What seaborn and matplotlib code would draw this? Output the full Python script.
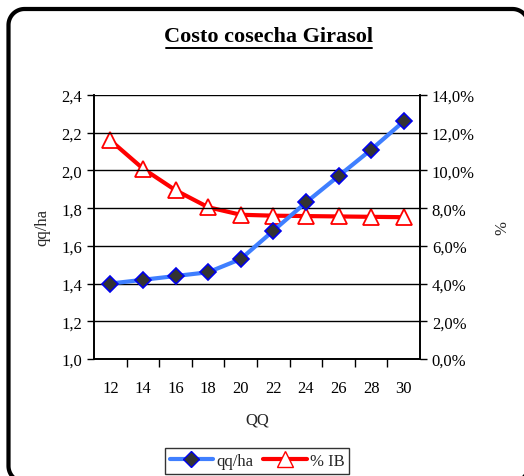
import matplotlib
matplotlib.use("Agg")
import matplotlib.pyplot as plt
import seaborn as sns
import pandas as pd
import numpy as np
from matplotlib.patches import PathPatch
from matplotlib.path import Path
from matplotlib.ticker import FixedLocator, FuncFormatter
from matplotlib.lines import Line2D

qq = [12, 14, 16, 18, 20, 22, 24, 26, 28, 30]
qq_ha = [1.40, 1.42, 1.44, 1.46, 1.53, 1.68, 1.83, 1.97, 2.11, 2.26]
pct_ib = [11.6, 10.1, 8.95, 8.05, 7.65, 7.6, 7.58, 7.56, 7.54, 7.52]
title = "Costo cosecha Girasol"

sns.set_theme(style="white")
plt.rcParams['font.family'] = ['Liberation Serif', 'DejaVu Serif']

df = pd.DataFrame({"QQ": qq, "qq/ha": qq_ha, "% IB": pct_ib})

fig = plt.figure(figsize=(5.24, 4.77), dpi=100)
ax = fig.add_axes([94/524, 1-360/477, (420-94)/524, (360-96)/477])
ax2 = ax.twinx()

blue = "#3F7FFF"
red = "#FF0000"

sns.lineplot(data=df, x="QQ", y="qq/ha", ax=ax, color=blue, linewidth=3,
             marker="D", markersize=8, markerfacecolor="#333333",
             markeredgecolor="#0000EE", markeredgewidth=1.2, zorder=5)
sns.lineplot(data=df, x="QQ", y="% IB", ax=ax2, color=red, linewidth=3,
             marker="^", markersize=11, markerfacecolor="white",
             markeredgecolor=red, markeredgewidth=1.3, zorder=4)

ax.set_xlim(11, 31)
ax.set_ylim(1.0, 2.4)
ax2.set_ylim(0, 14)

ax.yaxis.set_major_locator(FixedLocator([1.0, 1.2, 1.4, 1.6, 1.8, 2.0, 2.2, 2.4]))
ax.yaxis.set_major_formatter(FuncFormatter(lambda v, p: f"{v:.1f}".replace(".", ",")))
ax2.yaxis.set_major_locator(FixedLocator([0, 2, 4, 6, 8, 10, 12, 14]))
ax2.yaxis.set_major_formatter(FuncFormatter(lambda v, p: f"{v:.1f}%".replace(".", ",")))

ax.xaxis.set_major_locator(FixedLocator(qq))
ax.xaxis.set_minor_locator(FixedLocator([13, 15, 17, 19, 21, 23, 25, 27, 29]))
ax.tick_params(axis="x", which="major", length=0, labelsize=12, pad=15, colors="black")
ax.tick_params(axis="x", which="minor", length=6, width=1, direction="out", color="black", bottom=True)
ax.tick_params(axis="y", which="major", length=5, width=1, direction="out", labelsize=12, left=True, colors="black")
ax2.tick_params(axis="y", which="major", length=5, width=1, direction="out", labelsize=12, right=True, colors="black")

ax.grid(True, axis="y", color="black", linewidth=1)
ax.grid(False, axis="x")
ax2.grid(False)
for a in (ax, ax2):
    a.spines["top"].set_visible(False)
    for s in ("left", "right", "bottom"):
        a.spines[s].set_color("black")
        a.spines[s].set_linewidth(1.2)

ax.set_xlabel("QQ", fontsize=12, labelpad=11)
ax.set_ylabel("qq/ha", fontsize=12, labelpad=8)
ax2.set_ylabel("%", fontsize=12, labelpad=14)
ax.set_zorder(ax2.get_zorder() + 1)
ax.patch.set_visible(False)

if ax.get_legend():
    ax.get_legend().remove()
if ax2.get_legend():
    ax2.get_legend().remove()

fig.text(269/524, 1-37/477, title, ha="center", va="center", fontsize=16,
         fontweight="bold", color="black")
fig.add_artist(Line2D([166/524, 372/524], [1-49/477, 1-49/477], color="black", linewidth=1.4))

handles = [
    Line2D([], [], color=blue, linewidth=3, marker="D", markersize=8,
           markerfacecolor="#333333", markeredgecolor="#0000EE"),
    Line2D([], [], color=red, linewidth=3, marker="^", markersize=11,
           markerfacecolor="white", markeredgecolor=red),
]
leg = fig.legend(handles, ["qq/ha", "% IB"], loc="center", bbox_to_anchor=(257/524, 1-462/477),
                 ncol=2, frameon=True, fancybox=False, fontsize=12, handlelength=2.6,
                 handletextpad=0.2, columnspacing=0.6, borderpad=0.3, edgecolor="black")
leg.get_frame().set_linewidth(1)


def rounded_rect(x0, y0, x1, y1, r, n=24):
    pts = []
    corners = [((x1 - r, y1 - r), 0, 90), ((x0 + r, y1 - r), 90, 180),
               ((x0 + r, y0 + r), 180, 270), ((x1 - r, y0 + r), 270, 360)]
    for (cx, cy), a0, a1 in corners:
        t = np.radians(np.linspace(a0, a1, n))
        pts.extend(zip(cx + r * np.cos(t), cy + r * np.sin(t)))
    pts.append(pts[0])
    return np.array(pts)


hw = 0.021
bx0, by0, bx1, by1, br = 0.085, -0.06, 5.285, 4.67, 0.16
outer = rounded_rect(bx0 - hw, by0 - hw, bx1 + hw, by1 + hw, br + hw)
inner = rounded_rect(bx0 + hw, by0 + hw, bx1 - hw, by1 - hw, br - hw)[::-1]
ring = Path.make_compound_path(Path(outer, closed=True), Path(inner, closed=True))
fig.add_artist(PathPatch(ring, facecolor="black", edgecolor="none", linewidth=0,
                         transform=fig.dpi_scale_trans))

fig.savefig("out.png", dpi=100)
